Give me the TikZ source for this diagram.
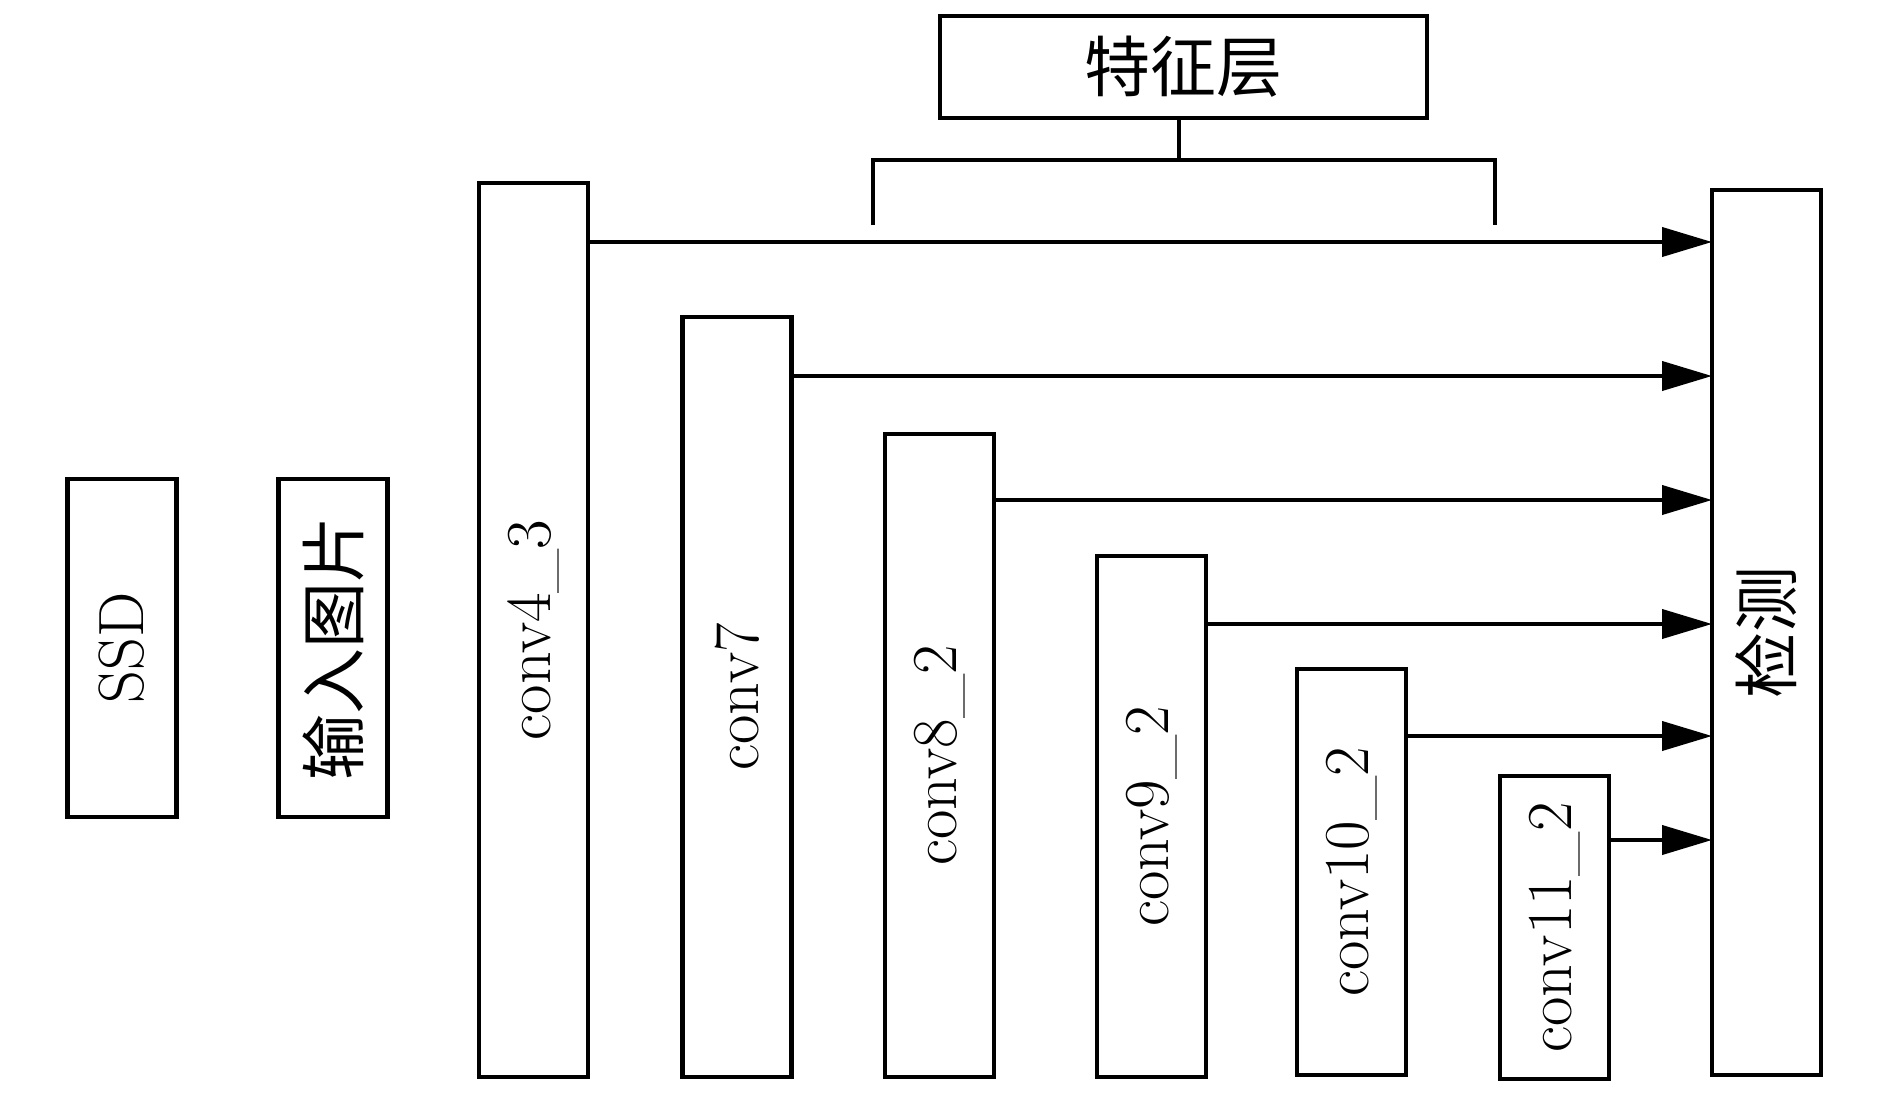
\documentclass[tikz,border=0pt]{standalone}
\usepackage{fontspec}
\newfontfamily\cjk{Noto Sans CJK SC}
\usetikzlibrary{arrows.meta}
\begin{document}
\begin{tikzpicture}[x=0.5pt,y=-0.5pt,
  box/.style={draw=black,line width=2.25pt,fill=white,inner sep=0pt,outer sep=0pt,
    minimum width=54.5pt,font=\fontsize{32pt}{38pt}\selectfont},
  cjkt/.style={font=\fontsize{33pt}{40pt}\selectfont\cjk},
  arr/.style={line width=2pt,-{Triangle[length=25pt,width=14.5pt]}},
  brk/.style={line width=2.25pt}]
\useasboundingbox (0,0) rectangle (1890,1103);
\node[box,minimum height=169pt] (ssd) at (122,648) {\rotatebox{90}{SSD}};
\node[box,cjkt,minimum height=169pt] (inp) at (333,648) {\rotatebox{90}{输入图片}};
\node[box,minimum height=447pt] (c43) at (533.5,630) {\rotatebox{90}{conv4\_3}};
\node[box,minimum height=380pt] (c7) at (737,697) {\rotatebox{90}{conv7}};
\node[box,minimum height=321.5pt] (c82) at (939.5,755.5) {\rotatebox{90}{conv8\_2}};
\node[box,minimum height=260.5pt] (c92) at (1151.5,816.5) {\rotatebox{90}{conv9\_2}};
\node[box,minimum height=203pt] (c102) at (1351.5,872) {\rotatebox{90}{conv10\_2}};
\node[box,minimum height=151.5pt] (c112) at (1554.5,927.5) {\rotatebox{90}{conv11\_2}};
\node[box,cjkt,minimum height=442.5pt] (det) at (1766.5,632.5) {\rotatebox{90}{检测}};
\node[box,cjkt,minimum width=243.5pt,minimum height=51pt] (feat) at (1183.5,67) {特征层};
% bracket
\coordinate (bm) at (1179,160);
\coordinate (bl) at (873,225);
\coordinate (br) at (1495,225);
\draw[brk] (feat.south -| bm) -- (bm);
\draw[brk] (bl) -- ++(0,-65) -| (br);
% arrows
\coordinate (y1) at (0,242);
\coordinate (y2) at (0,376);
\coordinate (y3) at (0,500);
\coordinate (y4) at (0,624);
\coordinate (y5) at (0,736);
\coordinate (y6) at (0,840);
\draw[arr] (c43.east |- y1) -- (det.west |- y1);
\draw[arr] (c7.east |- y2) -- (det.west |- y2);
\draw[arr] (c82.east |- y3) -- (det.west |- y3);
\draw[arr] (c92.east |- y4) -- (det.west |- y4);
\draw[arr] (c102.east |- y5) -- (det.west |- y5);
\draw[arr] (c112.east |- y6) -- (det.west |- y6);
\end{tikzpicture}
\end{document}
